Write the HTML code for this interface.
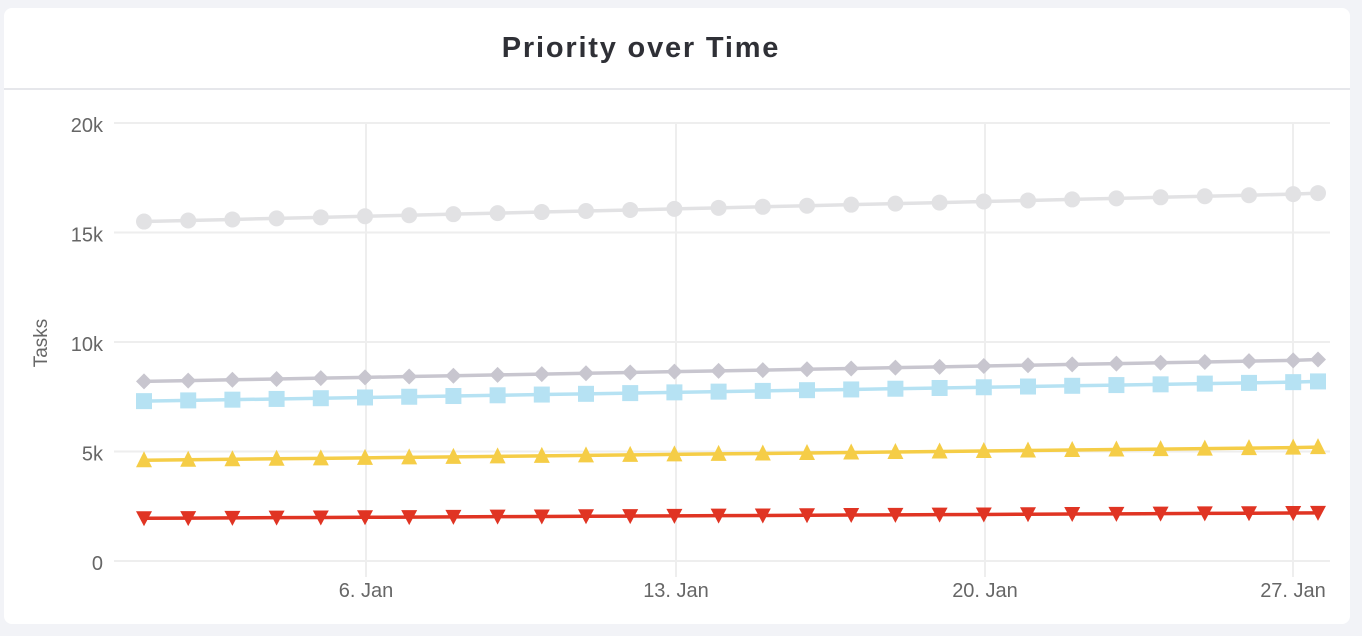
<!DOCTYPE html>
<html><head><meta charset="utf-8"><style>
html,body{margin:0;padding:0;background:#f2f3f7;width:1362px;height:636px;overflow:hidden;font-family:"Liberation Sans",sans-serif}
</style></head><body>
<svg id="s" width="1362" height="636" xmlns="http://www.w3.org/2000/svg">
<rect x="4" y="8" width="1346" height="616" rx="8" fill="#fff"/>
<line x1="4" y1="89" x2="1350" y2="89" stroke="#e6e7eb" stroke-width="2"/>
<text x="641" y="57" text-anchor="middle" font-size="29" font-weight="bold" fill="#2f3036" font-family="Liberation Sans, sans-serif" letter-spacing="1.8">Priority over Time</text>
<g id="grid"></g>
<text transform="translate(47,343) rotate(-90)" text-anchor="middle" font-size="19" fill="#666">Tasks</text>
<g id="series"></g>
</svg>
<script>
const g=document.getElementById('grid'),S=document.getElementById('series');
const ns='http://www.w3.org/2000/svg';
function el(p,t,a,txt){const e=document.createElementNS(ns,t);for(const k in a)e.setAttribute(k,a[k]);if(txt)e.textContent=txt;p.appendChild(e);return e;}
const Y=v=>561-v/5000*109.5;
['0','5k','10k','15k','20k'].forEach((l,i)=>{const y=Y(i*5000);
el(g,'line',{x1:114,x2:1330,y1:y,y2:y,stroke:'#eeeeee','stroke-width':2});
el(g,'text',{x:103,y:y+9,'text-anchor':'end','font-size':20,fill:'#666'},l);});
[[366,'6. Jan'],[676,'13. Jan'],[985,'20. Jan'],[1293,'27. Jan']].forEach(([x,l])=>{
el(g,'line',{x1:x,x2:x,y1:123,y2:577,stroke:'#eeeeee','stroke-width':2});
el(g,'text',{x:x,y:597,'text-anchor':'middle','font-size':20,fill:'#666'},l);});
const N=28,X=i=>i<27?144+i*44.2:1318;
function vals(a,b){const r=[];for(let i=0;i<N;i++)r.push(a+(b-a)*i/(N-1));return r;}
const series=[
{v:vals(15500,16800),c:'#e2e2e4',m:'c'},
{v:vals(8200,9200),c:'#c8c6cf',m:'d'},
{v:vals(7300,8200),c:'#b6e2f3',m:'s'},
{v:vals(4600,5200),c:'#f5cd47',m:'t'},
{v:vals(1950,2200),c:'#e03423',m:'v'}];
series.forEach(s=>{
const pts=s.v.map((v,i)=>X(i)+','+Y(v)).join(' ');
el(S,'polyline',{points:pts,fill:'none',stroke:s.c,'stroke-width':3.5});
s.v.forEach((v,i)=>{const x=X(i),y=Y(v);
if(s.m=='c')el(S,'circle',{cx:x,cy:y,r:8,fill:s.c});
if(s.m=='d')el(S,'polygon',{points:`${x},${y-8} ${x+8},${y} ${x},${y+8} ${x-8},${y}`,fill:s.c});
if(s.m=='s')el(S,'rect',{x:x-8,y:y-8,width:16,height:16,fill:s.c});
if(s.m=='t')el(S,'polygon',{points:`${x},${y-9} ${x+8},${y+7} ${x-8},${y+7}`,fill:s.c});
if(s.m=='v')el(S,'polygon',{points:`${x-8},${y-7} ${x+8},${y-7} ${x},${y+8}`,fill:s.c});
});});
</script>
</body></html>
